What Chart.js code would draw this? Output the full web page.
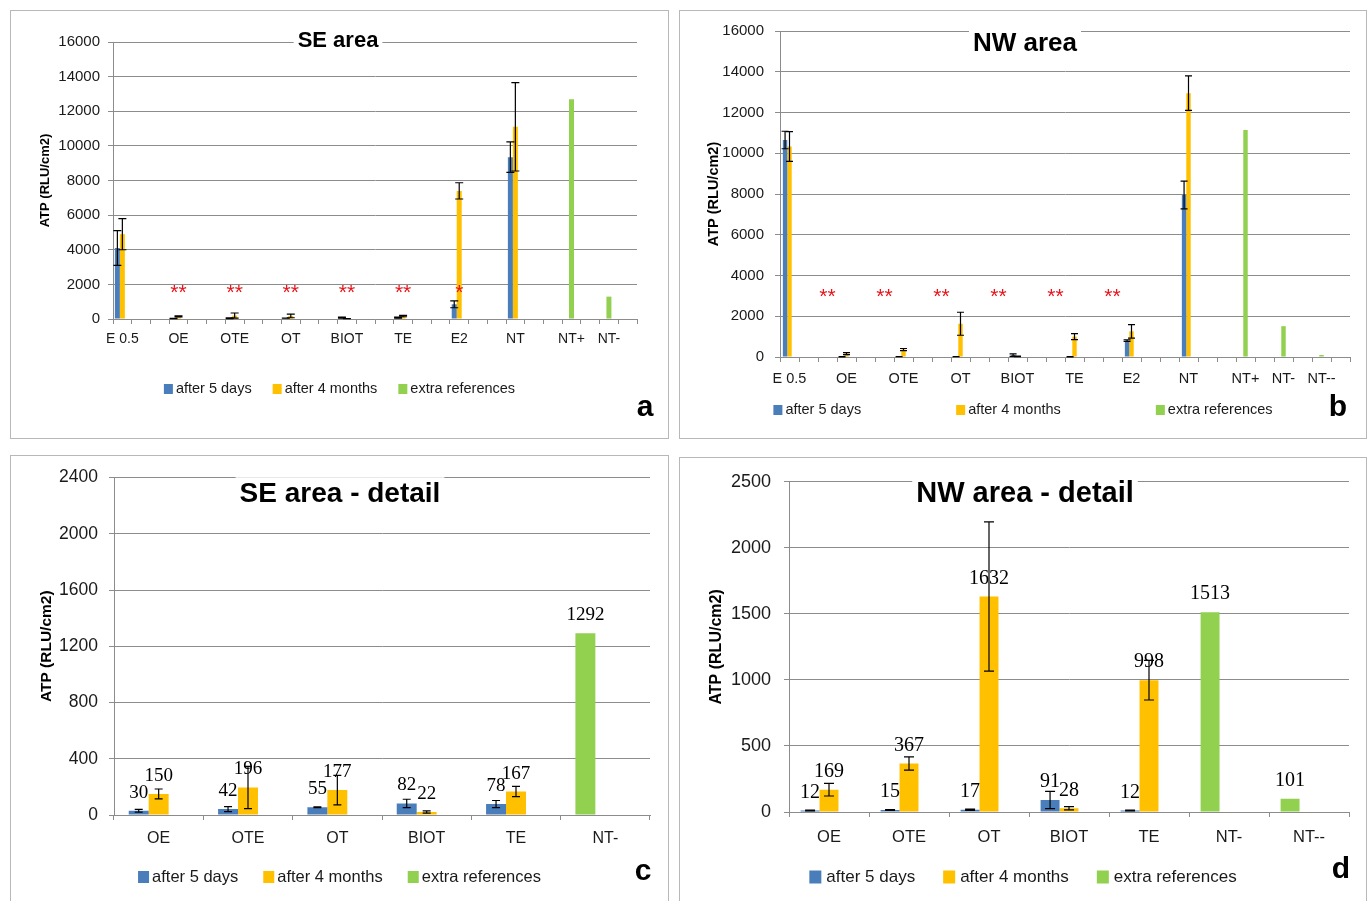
<!DOCTYPE html>
<html>
<head>
<meta charset="utf-8">
<script src="https://cdn.jsdelivr.net/npm/chart.js@4.4.1/dist/chart.umd.min.js"></script>
<style>
	body { margin: 0; width: 1372px; height: 901px; overflow: hidden; background: #fff; }
	.panel { position: absolute; border: 1px solid #b8b8b8; background: #fff; }
	.panel canvas { display: block; }
</style>
</head>
<body>
<div class="panel" style="left:10px;top:10px;width:657px;height:427px"><canvas id="chart-a" width="657" height="427"></canvas></div>
<div class="panel" style="left:679px;top:10px;width:686px;height:427px"><canvas id="chart-b" width="686" height="427"></canvas></div>
<div class="panel" style="left:10px;top:455px;width:657px;height:468px"><canvas id="chart-c" width="657" height="468"></canvas></div>
<div class="panel" style="left:679px;top:457px;width:686px;height:468px"><canvas id="chart-d" width="686" height="468"></canvas></div>
<script>
// ---- a: SE area (the original axis has 28 slots, only some are labelled)
const labelsA = ['E 0.5', '', '', 'OE', '', '', 'OTE', '', '', 'OT', '', '', 'BIOT', '', '', 'TE', '', '', 'E2', '', '', 'NT', '', '', 'NT+', '', 'NT-', ''];
const days5A = [4100, null, null, 30, null, null, 42, null, null, 55, null, null, 82, null, null, 78, null, null, 850, null, null, 9350, null, null, null, null, null, null];
const days5ErrA = [1000, null, null, 10, null, null, 18, null, null, 3, null, null, 30, null, null, 25, null, null, 200, null, null, 880, null, null, null, null, null, null];
const months4A = [4900, null, null, 150, null, null, 196, null, null, 177, null, null, 22, null, null, 167, null, null, 7400, null, null, 11100, null, null, null, null, null, null];
const months4ErrA = [900, null, null, 35, null, null, 150, null, null, 105, null, null, 8, null, null, 37, null, null, 470, null, null, 2550, null, null, null, null, null, null];
const extraA = [null, null, null, null, null, null, null, null, null, null, null, null, null, null, null, null, null, null, null, null, null, null, null, null, 12700, null, 1292, null];
const starsA = ['', '', '', '**', '', '', '**', '', '', '**', '', '', '**', '', '', '**', '', '', '*', '', '', '', '', '', '', '', '', ''];

// ---- b: NW area (30 slots)
const labelsB = ['E 0.5', '', '', 'OE', '', '', 'OTE', '', '', 'OT', '', '', 'BIOT', '', '', 'TE', '', '', 'E2', '', '', 'NT', '', '', 'NT+', '', 'NT-', '', 'NT--', ''];
const days5B = [10650, null, null, 12, null, null, 15, null, null, 17, null, null, 91, null, null, 12, null, null, 800, null, null, 7950, null, null, null, null, null, null, null, null];
const days5ErrB = [430, null, null, 3, null, null, 3, null, null, 5, null, null, 65, null, null, 3, null, null, 40, null, null, 680, null, null, null, null, null, null, null, null];
const months4B = [10330, null, null, 169, null, null, 367, null, null, 1632, null, null, 28, null, null, 998, null, null, 1260, null, null, 12950, null, null, null, null, null, null, null, null];
const months4ErrB = [730, null, null, 48, null, null, 50, null, null, 565, null, null, 12, null, null, 150, null, null, 330, null, null, 850, null, null, null, null, null, null, null, null];
const extraB = [null, null, null, null, null, null, null, null, null, null, null, null, null, null, null, null, null, null, null, null, null, null, null, null, 11140, null, 1513, null, 101, null];
const starsB = ['', '', '**', '', '', '**', '', '', '**', '', '', '**', '', '', '**', '', '', '**', '', '', '', '', '', '', '', '', '', '', '', ''];

// ---- c: SE area - detail
const labelsC = ['OE', 'OTE', 'OT', 'BIOT', 'TE', 'NT-'];
const days5C = [30, 42, 55, 82, 78, null];
const days5ErrC = [10, 18, 3, 30, 25, null];
const months4C = [150, 196, 177, 22, 167, null];
const months4ErrC = [35, 150, 105, 8, 37, null];
const extraC = [null, null, null, null, null, 1292];

// ---- d: NW area - detail
const labelsD = ['OE', 'OTE', 'OT', 'BIOT', 'TE', 'NT-', 'NT--'];
const days5D = [12, 15, 17, 91, 12, null, null];
const days5ErrD = [3, 3, 5, 65, 3, null, null];
const months4D = [169, 367, 1632, 28, 998, null, null];
const months4ErrD = [48, 50, 565, 12, 150, null, null];
const extraD = [null, null, null, null, null, 1513, 101];

const seriesNames = ['after 5 days', 'after 4 months', 'extra references'];

const BLUE = '#4a7ebb';
const YELLOW = '#ffc000';
const GREEN = '#92d050';
const GRID = '#8c8c8c';
const INK = '#1a1a1a';
const SANS = '"Liberation Sans", Arial, sans-serif';
const NARROW = '"Liberation Sans Narrow", "Liberation Sans", sans-serif';
const SERIF = '"Liberation Serif", serif';

// error bars, value labels, stars, title, legend and panel letter
const panelExtras = {
	id: 'panelExtras',
	afterDatasetsDraw(chart, args, opts) {
		const ctx = chart.ctx;
		const yScale = chart.scales.y;
		const xScale = chart.scales.x;
		ctx.save();

		chart.data.datasets.forEach((ds, di) => {
			if (!ds.errors) {
				return;
			}
			chart.getDatasetMeta(di).data.forEach((bar, i) => {
				const v = ds.data[i];
				const e = ds.errors[i];
				if (v == null || e == null) {
					return;
				}
				const top = yScale.getPixelForValue(v + e);
				const bot = yScale.getPixelForValue(Math.max(v - e, 0));
				const half = opts.cap / 2;
				ctx.strokeStyle = '#000';
				ctx.lineWidth = 1.2;
				ctx.beginPath();
				ctx.moveTo(bar.x, top);
				ctx.lineTo(bar.x, bot);
				ctx.moveTo(bar.x - half, top);
				ctx.lineTo(bar.x + half, top);
				ctx.moveTo(bar.x - half, bot);
				ctx.lineTo(bar.x + half, bot);
				ctx.stroke();
			});
		});

		if (opts.valueFont) {
			ctx.font = opts.valueFont;
			ctx.fillStyle = '#000';
			ctx.textAlign = 'center';
			ctx.textBaseline = 'middle';
			chart.data.datasets.forEach((ds, di) => {
				if (!ds.label) {
					return;
				}
				chart.getDatasetMeta(di).data.forEach((bar, i) => {
					const v = ds.data[i];
					if (v == null) {
						return;
					}
					ctx.fillText(String(v), bar.x, bar.y - opts.valueGap);
				});
			});
		}

		if (opts.stars) {
			ctx.font = opts.starFont;
			ctx.fillStyle = '#e8141c';
			ctx.textAlign = 'center';
			ctx.textBaseline = 'middle';
			const sy = yScale.getPixelForValue(opts.starLevel);
			opts.stars.forEach((s, i) => {
				if (s) {
					ctx.fillText(s, xScale.getPixelForValue(i), sy);
				}
			});
		}
		ctx.restore();
	},
	afterDraw(chart, args, opts) {
		const ctx = chart.ctx;
		ctx.save();

		// chart title, with a white box like the original text box
		ctx.font = opts.titleFont;
		const tw = ctx.measureText(opts.title).width;
		ctx.fillStyle = '#fff';
		ctx.fillRect(opts.titleX - tw / 2 - 4, opts.titleY - opts.titleSize * 0.6, tw + 8, opts.titleSize * 1.2);
		ctx.fillStyle = '#000';
		ctx.textAlign = 'center';
		ctx.textBaseline = 'middle';
		ctx.fillText(opts.title, opts.titleX, opts.titleY);

		// legend row
		const lg = opts.legend;
		const items = chart.data.datasets.filter((d) => d.label);
		ctx.font = lg.font;
		const widths = items.map((d) => lg.box[0] + lg.boxGap + ctx.measureText(d.label).width);
		const total = widths.reduce((a, b) => a + b, 0) + lg.gap * (items.length - 1);
		let x = chart.width / 2 - total / 2;
		ctx.textAlign = 'left';
		items.forEach((d, i) => {
			ctx.fillStyle = d.backgroundColor;
			ctx.fillRect(x, lg.y - lg.box[1] / 2, lg.box[0], lg.box[1]);
			ctx.fillStyle = INK;
			ctx.fillText(d.label, x + lg.box[0] + lg.boxGap, lg.y);
			x += widths[i] + lg.gap;
		});

		// panel letter
		ctx.font = 'bold 30px ' + SANS;
		ctx.fillStyle = '#000';
		ctx.textAlign = 'center';
		ctx.fillText(opts.letter, opts.letterX, opts.letterY);
		ctx.restore();
	},
};

function buildPanel(id, spec) {
	const bar = { categoryPercentage: spec.catPct, barPercentage: 1 };
	return new Chart(document.getElementById(id), {
		type: 'bar',
		data: {
			labels: spec.labels,
			datasets: [
				{ label: seriesNames[0], data: spec.days5, errors: spec.days5Err, backgroundColor: BLUE, stack: 's1', ...bar },
				{ label: seriesNames[1], data: spec.months4, errors: spec.months4Err, backgroundColor: YELLOW, stack: 's2', ...bar },
				{ label: seriesNames[2], data: spec.extra, backgroundColor: GREEN, stack: spec.extraStack, ...bar },
				// empty third group: Excel kept room for a third bar in every category
				{ label: '', data: [], stack: 's3', ...bar },
			],
		},
		options: {
			responsive: false,
			animation: false,
			events: [],
			layout: { padding: { left: 0, right: spec.padRight, top: spec.padTop, bottom: spec.padBottom } },
			plugins: {
				legend: { display: false },
				tooltip: { enabled: false },
				panelExtras: spec.extras,
			},
			scales: {
				x: {
					stacked: true,
					grid: { drawOnChartArea: false, tickLength: 5, color: GRID, offset: true },
					border: { color: GRID },
					ticks: {
						autoSkip: false,
						maxRotation: 0,
						minRotation: 0,
						padding: spec.xTickPad,
						color: INK,
						font: { family: NARROW, size: spec.xTickSize },
					},
					afterFit(scale) {
						scale.height = spec.xAxisHeight;
					},
				},
				y: {
					stacked: true,
					min: 0,
					max: spec.yMax,
					ticks: {
						stepSize: spec.yStep,
						padding: spec.yTickPad,
						color: INK,
						font: { family: SANS, size: spec.yTickSize },
						callback: (v) => String(v),
					},
					grid: { color: GRID, tickLength: 5 },
					border: { color: GRID },
					title: {
						display: true,
						text: 'ATP (RLU/cm2)',
						color: '#000',
						font: { family: SANS, size: spec.yTitleSize, weight: 'bold' },
						padding: { top: spec.yTitlePad, bottom: 0 },
					},
					afterFit(scale) {
						scale.width = spec.yAxisWidth;
					},
				},
			},
		},
		plugins: [panelExtras],
	});
}

buildPanel('chart-a', {
	labels: labelsA, days5: days5A, days5Err: days5ErrA, months4: months4A, months4Err: months4ErrA, extra: extraA,
	extraStack: 's2', catPct: 0.8,
	yMax: 16000, yStep: 2000,
	yAxisWidth: 102, padTop: 31, padRight: 31, padBottom: 84, xAxisHeight: 35,
	xTickPad: 7, xTickSize: 14, yTickPad: 8, yTickSize: 15, yTitleSize: 13, yTitlePad: 27,
	extras: {
		cap: 8, stars: starsA, starLevel: 1500, starFont: '21px ' + SANS,
		title: 'SE area', titleX: 327, titleY: 30, titleSize: 22, titleFont: 'bold 22px ' + SANS,
		legend: { y: 378, font: '14.5px ' + SANS, box: [9, 10], boxGap: 3, gap: 21 },
		letter: 'a', letterX: 634, letterY: 397,
	},
});

buildPanel('chart-b', {
	labels: labelsB, days5: days5B, days5Err: days5ErrB, months4: months4B, months4Err: months4ErrB, extra: extraB,
	extraStack: 's2', catPct: 0.7,
	yMax: 16000, yStep: 2000,
	yAxisWidth: 100, padTop: 17, padRight: 16, padBottom: 46, xAxisHeight: 35,
	xTickPad: 8, xTickSize: 14.5, yTickPad: 11, yTickSize: 15, yTitleSize: 14.5, yTitlePad: 25,
	extras: {
		cap: 7, stars: starsB, starLevel: 2950, starFont: '21px ' + SANS,
		title: 'NW area', titleX: 345, titleY: 33, titleSize: 26, titleFont: 'bold 26px ' + SANS,
		legend: { y: 399, font: '14.5px ' + SANS, box: [9, 10], boxGap: 3, gap: 95 },
		letter: 'b', letterX: 658, letterY: 397,
	},
});

buildPanel('chart-c', {
	labels: labelsC, days5: days5C, days5Err: days5ErrC, months4: months4C, months4Err: months4ErrC, extra: extraC,
	extraStack: 's1', catPct: 0.67,
	yMax: 2400, yStep: 400,
	yAxisWidth: 103, padTop: 19, padRight: 18, padBottom: 69, xAxisHeight: 40,
	xTickPad: 9, xTickSize: 16, yTickPad: 11, yTickSize: 17.5, yTitleSize: 15.5, yTitlePad: 26,
	extras: {
		cap: 8, valueFont: '19px ' + SERIF, valueGap: 18,
		title: 'SE area - detail', titleX: 329, titleY: 38, titleSize: 28, titleFont: 'bold 28px ' + SANS,
		legend: { y: 421, font: '16.5px ' + SANS, box: [11, 12], boxGap: 3, gap: 25 },
		letter: 'c', letterX: 632, letterY: 416,
	},
});

buildPanel('chart-d', {
	labels: labelsD, days5: days5D, days5Err: days5ErrD, months4: months4D, months4Err: months4ErrD, extra: extraD,
	extraStack: 's1', catPct: 0.71,
	yMax: 2500, yStep: 500,
	yAxisWidth: 109, padTop: 18, padRight: 17, padBottom: 74, xAxisHeight: 40,
	xTickPad: 11, xTickSize: 16.5, yTickPad: 13, yTickSize: 18, yTitleSize: 16, yTitlePad: 27,
	extras: {
		cap: 10, valueFont: '20px ' + SERIF, valueGap: 18,
		title: 'NW area - detail', titleX: 345, titleY: 36, titleSize: 29, titleFont: 'bold 29px ' + SANS,
		legend: { y: 419, font: '17px ' + SANS, box: [12, 13], boxGap: 5, gap: 28 },
		letter: 'd', letterX: 661, letterY: 412,
	},
});
</script>
</body>
</html>
